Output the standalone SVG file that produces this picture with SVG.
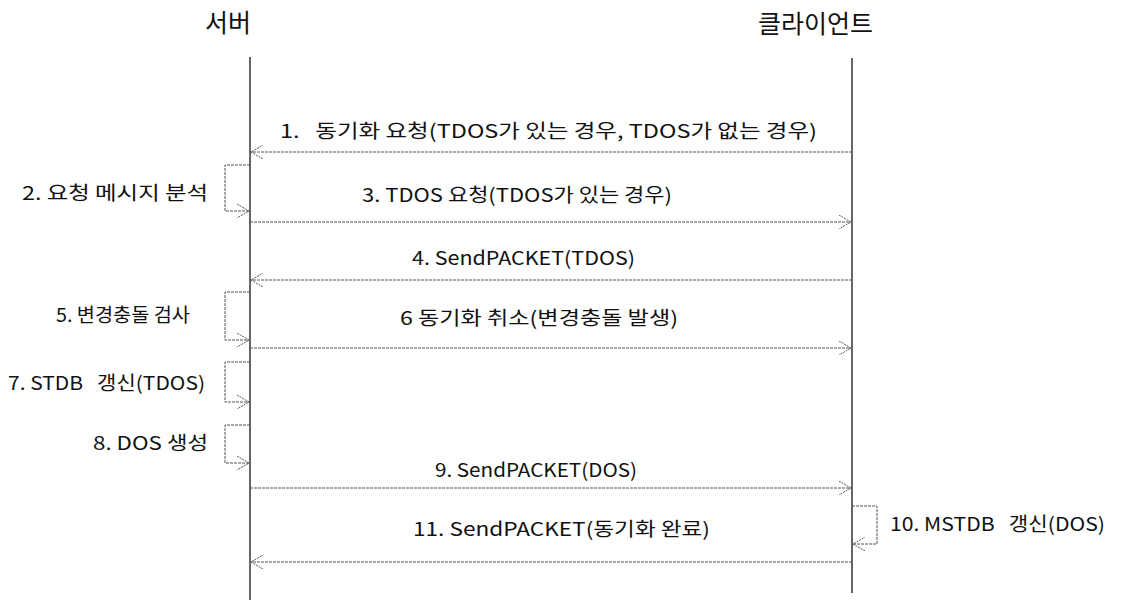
<svg xmlns="http://www.w3.org/2000/svg" width="1122" height="603" viewBox="0 0 1122 603">
<style>
.t{font-family:"Noto Sans CJK KR","Noto Sans",sans-serif;fill:#111;white-space:pre;}
.h{font-size:25px;}
.l{font-size:19px;}
.life{stroke:#333;stroke-width:1.5;fill:none;}
.msg{stroke:#555;stroke-width:1;stroke-dasharray:3 1;fill:none;}
</style>
<defs>
<marker id="ah" viewBox="0 0 12 14" refX="12" refY="7" markerWidth="12" markerHeight="14" markerUnits="userSpaceOnUse" orient="auto">
<path d="M0,0 L12,7 L0,14" fill="none" stroke="#555" stroke-width="1" stroke-dasharray="2 1"/>
</marker>
</defs>
<rect width="1122" height="603" fill="#fff"/>
<g id="server">
<text class="t h" x="205" y="32">서버</text>
<line class="life" x1="250" y1="57" x2="250" y2="600"/>
</g>
<g id="client">
<text class="t h" x="873" y="33" text-anchor="end">클라이언트</text>
<line class="life" x1="852" y1="58" x2="852" y2="593"/>
</g>
<g id="connectors">
<line class="msg" x1="852" y1="152" x2="251" y2="152" marker-end="url(#ah)"/>
<path class="msg" d="M250,165 H225 V211 H249" marker-end="url(#ah)"/>
<line class="msg" x1="250" y1="222" x2="851" y2="222" marker-end="url(#ah)"/>
<line class="msg" x1="852" y1="280" x2="251" y2="280" marker-end="url(#ah)"/>
<path class="msg" d="M250,292 H225 V340 H249" marker-end="url(#ah)"/>
<line class="msg" x1="250" y1="348" x2="851" y2="348" marker-end="url(#ah)"/>
<path class="msg" d="M250,362 H225 V402 H249" marker-end="url(#ah)"/>
<path class="msg" d="M250,425 H225 V463 H249" marker-end="url(#ah)"/>
<line class="msg" x1="250" y1="488" x2="851" y2="488" marker-end="url(#ah)"/>
<path class="msg" d="M852,506 H877 V544 H853" marker-end="url(#ah)"/>
<line class="msg" x1="852" y1="562" x2="251" y2="562" marker-end="url(#ah)"/>
</g>
<g id="labels">
<text class="t l" x="280" y="138" textLength="537" lengthAdjust="spacingAndGlyphs">1.   동기화 요청(TDOS가 있는 경우, TDOS가 없는 경우)</text>
<text class="t l" x="22" y="200" textLength="186" lengthAdjust="spacingAndGlyphs">2. 요청 메시지 분석</text>
<text class="t l" x="362" y="202" textLength="310" lengthAdjust="spacingAndGlyphs">3. TDOS 요청(TDOS가 있는 경우)</text>
<text class="t l" x="412" y="265" textLength="223" lengthAdjust="spacingAndGlyphs">4. SendPACKET(TDOS)</text>
<text class="t l" x="56" y="322" textLength="134" lengthAdjust="spacingAndGlyphs">5. 변경충돌 검사</text>
<text class="t l" x="400" y="325" textLength="278" lengthAdjust="spacingAndGlyphs">6 동기화 취소(변경충돌 발생)</text>
<text class="t l" x="8" y="390" textLength="197" lengthAdjust="spacingAndGlyphs">7. STDB   갱신(TDOS)</text>
<text class="t l" x="93" y="450" textLength="115" lengthAdjust="spacingAndGlyphs">8. DOS 생성</text>
<text class="t l" x="435" y="477" textLength="202" lengthAdjust="spacingAndGlyphs">9. SendPACKET(DOS)</text>
<text class="t l" x="890" y="531" textLength="215" lengthAdjust="spacingAndGlyphs">10. MSTDB   갱신(DOS)</text>
<text class="t l" x="413" y="536" textLength="297" lengthAdjust="spacingAndGlyphs">11. SendPACKET(동기화 완료)</text>
</g>
</svg>
